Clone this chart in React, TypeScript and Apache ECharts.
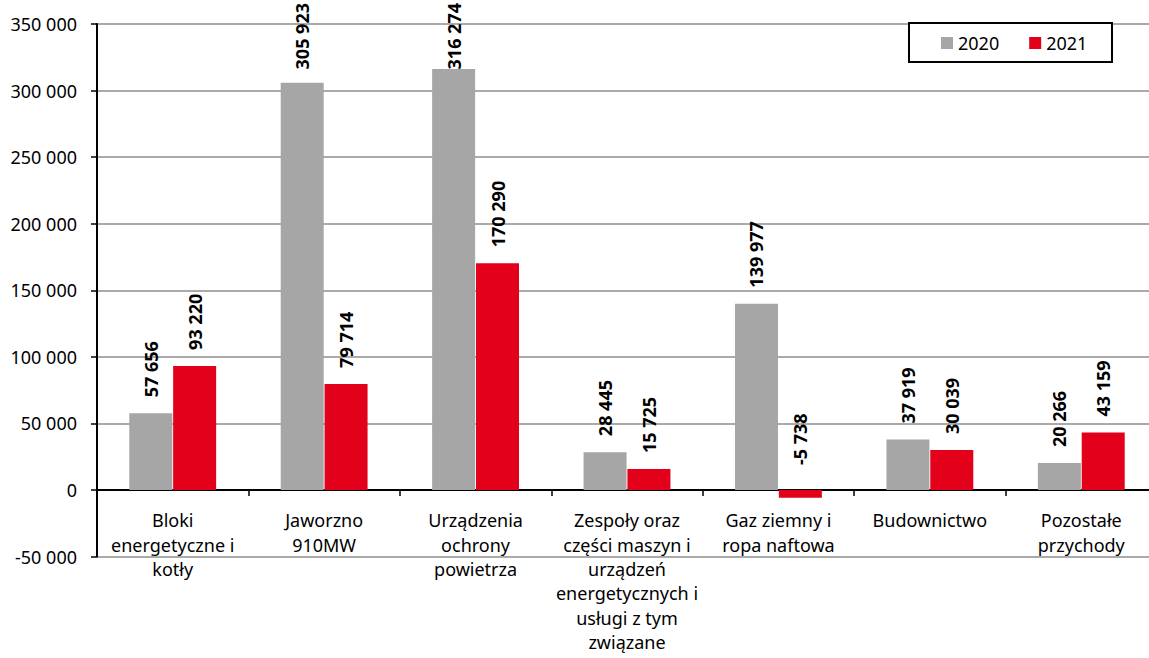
import React, { useEffect, useRef } from "react";
import * as echarts from "echarts";

const categories = [
  "Bloki\nenergetyczne i\nkotły",
  "Jaworzno\n910MW",
  "Urządzenia\nochrony\npowietrza",
  "Zespoły oraz\nczęści maszyn i\nurządzeń\nenergetycznych i\nusługi z tym\nzwiązane",
  "Gaz ziemny i\nropa naftowa",
  "Budownictwo",
  "Pozostałe\nprzychody",
];
const seriesNames = ["2020", "2021"];
const values2020 = [57656, 305923, 316274, 28445, 139977, 37919, 20266];
const values2021 = [93220, 79714, 170290, 15725, -5738, 30039, 43159];
const yMin = -50000;
const yMax = 350000;
const yStep = 50000;

const FONT = "'Noto Sans', 'Open Sans', sans-serif";

function fmt(v: number): string {
  const s = Math.abs(v)
    .toString()
    .replace(/\B(?=(\d{3})+(?!\d))/g, " ");
  return (v < 0 ? "-" : "") + s;
}

function makeData(vals: number[]) {
  return vals.map((v) => ({
    value: v,
    label: { distance: v < 0 ? 25 : 16 },
  }));
}

export default function App() {
  const ref = useRef<HTMLDivElement>(null);
  useEffect(() => {
    document.body.style.margin = "0";
    if (!ref.current) return;
    const chart = echarts.init(ref.current, null, { renderer: "svg" });
    const valueLabel = {
      show: true,
      position: "top",
      rotate: 90,
      align: "left",
      verticalAlign: "middle",
      fontFamily: FONT,
      fontSize: 18,
      fontWeight: "bold",
      color: "#000",
      formatter: (p: any) => fmt(p.value),
    };
    // keep labels inside the chart's top edge, as the original does
    const keepInside = (params: any) => {
      const r = params.labelRect;
      if (r && r.y < 3) return { y: 3 + r.height };
      return {};
    };
    chart.setOption({
      animation: false,
      backgroundColor: "#fff",
      textStyle: { fontFamily: FONT },
      grid: {
        left: 97,
        top: 24,
        width: 1060,
        height: 532.6,
        containLabel: false,
        outerBoundsMode: "none",
      },
      legend: {
        data: seriesNames,
        left: 941,
        top: 33,
        padding: 0,
        itemWidth: 12,
        itemHeight: 12,
        itemGap: 30,
        icon: "rect",
        z: 10,
        textStyle: { fontFamily: FONT, fontSize: 18, color: "#000", lineHeight: 20 },
      },
      graphic: [
        {
          type: "rect",
          z: 9,
          shape: { x: 909, y: 23, width: 203, height: 39 },
          style: { fill: "#fff", stroke: "#000", lineWidth: 2 },
        },
      ],
      xAxis: {
        type: "category",
        data: categories,
        axisLine: { onZero: true, lineStyle: { color: "#000", width: 2 } },
        axisTick: { show: true, interval: 0, length: 6, lineStyle: { color: "#000", width: 1.5 } },
        axisLabel: {
          interval: 0,
          margin: -48.6,
          fontFamily: FONT,
          fontSize: 18,
          lineHeight: 24.4,
          color: "#000",
          align: "center",
        },
        splitLine: { show: false },
      },
      yAxis: {
        type: "value",
        min: yMin,
        max: yMax,
        interval: yStep,
        axisLine: { show: true, lineStyle: { color: "#000", width: 2 } },
        axisTick: { show: true, length: 6, lineStyle: { color: "#000", width: 1.5 } },
        axisLabel: {
          margin: 20,
          fontFamily: FONT,
          fontSize: 18,
          color: "#000",
          formatter: (v: number) => fmt(v),
        },
        splitLine: { show: true, lineStyle: { color: "#8e8e8e", width: 1.5 } },
      },
      series: [
        {
          name: seriesNames[0],
          type: "bar",
          data: makeData(values2020),
          barWidth: 43,
          barGap: "2%",
          itemStyle: { color: "#a6a6a6" },
          label: valueLabel,
          labelLayout: keepInside,
        },
        {
          name: seriesNames[1],
          type: "bar",
          data: makeData(values2021),
          barWidth: 43,
          barGap: "2%",
          itemStyle: { color: "#e2001a" },
          label: valueLabel,
          labelLayout: keepInside,
        },
      ],
    });
    return () => chart.dispose();
  }, []);
  return <div ref={ref} style={{ width: 1149, height: 658 }} />;
}
